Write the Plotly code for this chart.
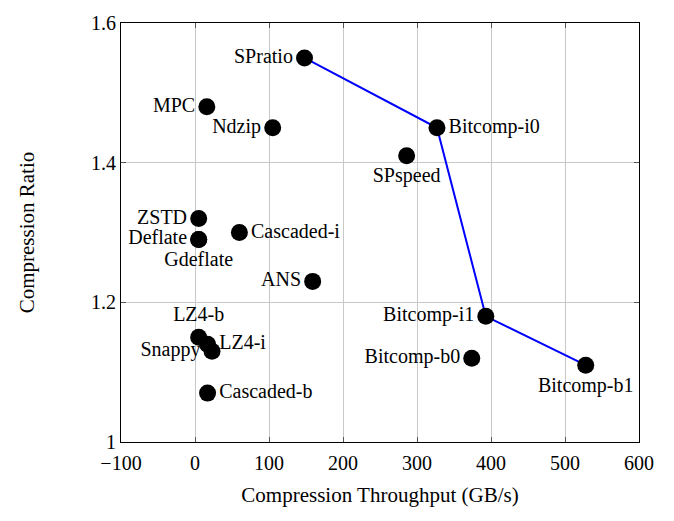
import plotly.graph_objects as go

names = ["SPratio", "MPC", "Ndzip", "Bitcomp-i0", "SPspeed", "ZSTD", "Deflate", "Gdeflate",
         "Cascaded-i", "ANS", "LZ4-b", "Snappy", "LZ4-i", "Cascaded-b", "Bitcomp-i1",
         "Bitcomp-b0", "Bitcomp-b1"]
throughput = [148, 16, 105, 327, 286, 5, 5, 5, 60, 159, 5, 23, 17, 17, 393, 374, 528]
ratio = [1.55, 1.48, 1.45, 1.45, 1.41, 1.32, 1.29, 1.29, 1.30, 1.23, 1.15, 1.13, 1.14, 1.07,
         1.18, 1.12, 1.11]
label_pos = ["middle left", "middle left", "middle left", "middle right", "bottom center",
             "middle left", "middle left", "bottom center", "middle right", "middle left",
             "top center", "middle left", "middle right", "middle right", "middle left",
             "middle left", "bottom center"]

front_names = ["SPratio", "Bitcomp-i0", "Bitcomp-i1", "Bitcomp-b1"]
front_x = [throughput[names.index(n)] for n in front_names]
front_y = [ratio[names.index(n)] for n in front_names]

x_ticks = [-100, 0, 100, 200, 300, 400, 500, 600]
y_ticks = [1, 1.2, 1.4, 1.6]
y_ticktext = ["1", "1.2", "1.4", "1.6"]

font = "Liberation Serif, DejaVu Serif, serif"

fig = go.Figure()
fig.add_trace(go.Scatter(x=front_x, y=front_y, mode="lines",
                         line=dict(color="#0000ff", width=2), hoverinfo="skip"))
fig.add_trace(go.Scatter(x=throughput, y=ratio, mode="markers+text", text=names,
                         textposition=label_pos,
                         textfont=dict(family=font, size=20, color="black"),
                         marker=dict(color="black", size=17)))

axis_common = dict(showline=True, linecolor="black", linewidth=1, mirror="ticks",
                   ticks="inside", ticklen=5, tickcolor="#555", showgrid=True,
                   gridcolor="#c8c8c8", gridwidth=1, zeroline=False,
                   tickfont=dict(family=font, size=20, color="black"))

fig.update_layout(
    width=674, height=521,
    margin=dict(l=121, r=35, t=14, b=79),
    paper_bgcolor="white", plot_bgcolor="white",
    showlegend=False,
    font=dict(family=font, color="black"),
    xaxis=dict(range=[-100, 600], tickvals=x_ticks, ticklabelstandoff=3,
               title=dict(text="Compression Throughput (GB/s)", font=dict(family=font, size=21),
                          standoff=14),
               **axis_common),
    yaxis=dict(range=[1, 1.6], tickvals=y_ticks, ticktext=y_ticktext,
               title=dict(text="Compression Ratio", font=dict(family=font, size=21),
                          standoff=50),
               **axis_common),
)

fig.write_html("out.html")
